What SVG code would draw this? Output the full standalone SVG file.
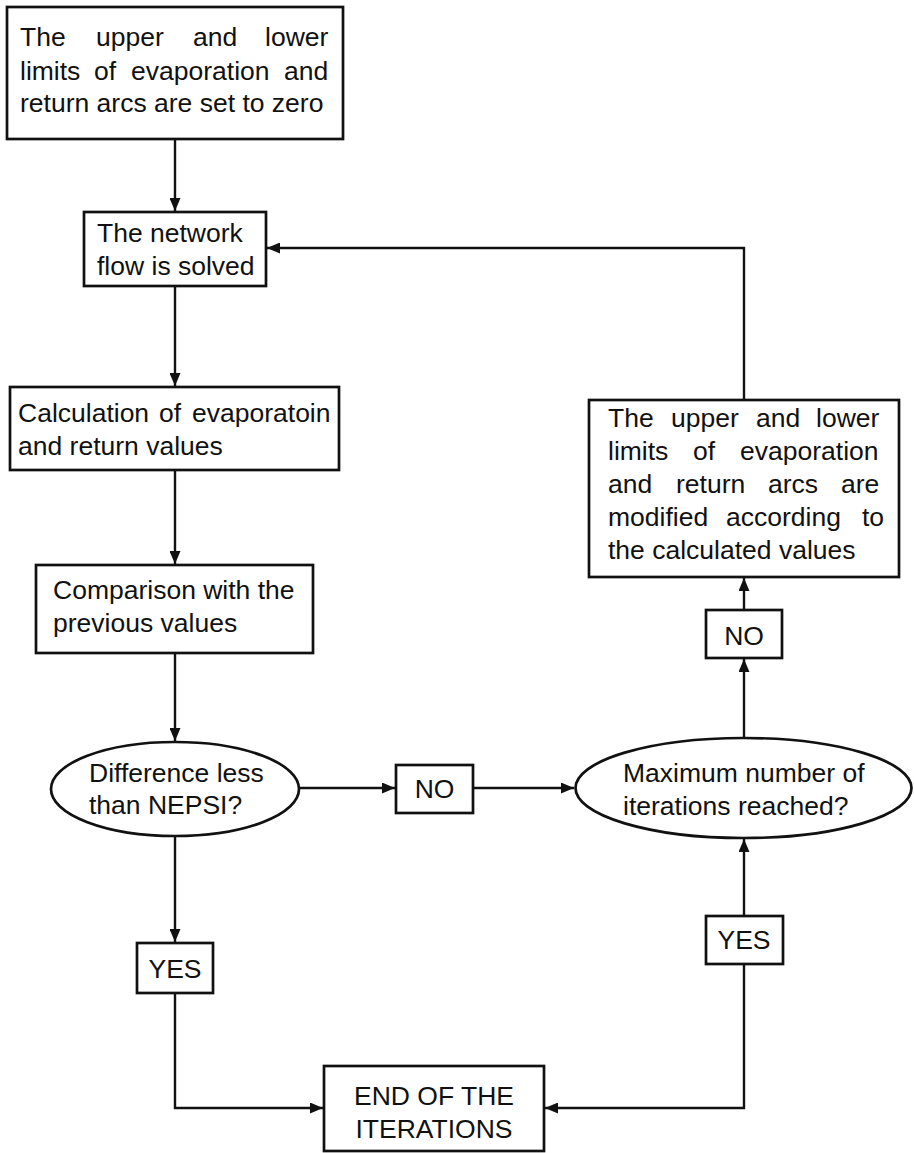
<svg xmlns="http://www.w3.org/2000/svg" width="914" height="1153" viewBox="0 0 914 1153">
  <style>
    .box { fill: #ffffff; stroke: #111111; stroke-width: 2.7; }
    .wire { fill: none; stroke: #111111; stroke-width: 2.4; }
    .lbl { font-family: "Liberation Sans", Arial, sans-serif; font-size: 26.5px; fill: #111111; }
    .mid { text-anchor: middle; }
  </style>
  <defs>
    <marker id="arrow" viewBox="0 0 13 11" refX="13" refY="5.5" markerWidth="13" markerHeight="11" markerUnits="userSpaceOnUse" orient="auto">
      <path d="M0,0 L13,5.5 L0,11 Z" fill="#111111"/>
    </marker>
  </defs>

  <g id="connectors">
    <path class="wire" d="M175,139 V211" marker-end="url(#arrow)"/>
    <path class="wire" d="M175,286 V386" marker-end="url(#arrow)"/>
    <path class="wire" d="M175,470 V564" marker-end="url(#arrow)"/>
    <path class="wire" d="M175,653 V741" marker-end="url(#arrow)"/>
    <path class="wire" d="M175,836 V942" marker-end="url(#arrow)"/>
    <path class="wire" d="M175,993 V1108 H323" marker-end="url(#arrow)"/>
    <path class="wire" d="M299,788 H395" marker-end="url(#arrow)"/>
    <path class="wire" d="M473,788 H574" marker-end="url(#arrow)"/>
    <path class="wire" d="M744,964 V1108 H545" marker-end="url(#arrow)"/>
    <path class="wire" d="M744,916 V839" marker-end="url(#arrow)"/>
    <path class="wire" d="M744,738 V659" marker-end="url(#arrow)"/>
    <path class="wire" d="M744,610 V578" marker-end="url(#arrow)"/>
    <path class="wire" d="M744,400 V248 H267" marker-end="url(#arrow)"/>
  </g>

  <g id="init-limits">
    <rect class="box" x="7" y="7" width="336" height="132"/>
    <text class="lbl" y="46"><tspan x="20">The</tspan><tspan x="96">upper</tspan><tspan x="193">and</tspan><tspan x="265">lower</tspan></text>
    <text class="lbl" y="80"><tspan x="20">limits</tspan><tspan x="94">of</tspan><tspan x="131">evaporation</tspan><tspan x="284">and</tspan></text>
    <text class="lbl" x="20" y="112">return arcs are set to zero</text>
  </g>

  <g id="solve-flow">
    <rect class="box" x="84" y="212" width="182" height="74"/>
    <text class="lbl" x="97" y="242">The network</text>
    <text class="lbl" x="97" y="275">flow is solved</text>
  </g>

  <g id="calc-values">
    <rect class="box" x="10" y="387" width="329" height="83"/>
    <text class="lbl" y="422"><tspan x="18">Calculation</tspan><tspan x="159">of</tspan><tspan x="192">evaporatoin</tspan></text>
    <text class="lbl" x="18" y="455">and return values</text>
  </g>

  <g id="compare">
    <rect class="box" x="36" y="565" width="277" height="88"/>
    <text class="lbl" x="53" y="599">Comparison with the</text>
    <text class="lbl" x="53" y="632">previous values</text>
  </g>

  <g id="check-diff">
    <ellipse class="box" cx="175" cy="789" rx="124" ry="47"/>
    <text class="lbl" x="89" y="782">Difference less</text>
    <text class="lbl" x="89" y="814">than NEPSI?</text>
  </g>

  <g id="no-diff">
    <rect class="box" x="396" y="765" width="77" height="48"/>
    <text class="lbl mid" x="434.5" y="798">NO</text>
  </g>

  <g id="check-iter">
    <ellipse class="box" cx="743.5" cy="788" rx="168" ry="50"/>
    <text class="lbl" x="623" y="782">Maximum number of</text>
    <text class="lbl" x="623" y="815">iterations reached?</text>
  </g>

  <g id="no-iter">
    <rect class="box" x="706" y="610" width="76" height="48"/>
    <text class="lbl mid" x="744" y="645">NO</text>
  </g>

  <g id="modify-limits">
    <rect class="box" x="589" y="400" width="310" height="177"/>
    <text class="lbl" y="427"><tspan x="608">The</tspan><tspan x="671">upper</tspan><tspan x="756">and</tspan><tspan x="816">lower</tspan></text>
    <text class="lbl" y="460"><tspan x="608">limits</tspan><tspan x="693">of</tspan><tspan x="740">evaporation</tspan></text>
    <text class="lbl" y="493"><tspan x="608">and</tspan><tspan x="676">return</tspan><tspan x="768">arcs</tspan><tspan x="841">are</tspan></text>
    <text class="lbl" y="526"><tspan x="608">modified</tspan><tspan x="726">according</tspan><tspan x="862">to</tspan></text>
    <text class="lbl" x="608" y="559">the calculated values</text>
  </g>

  <g id="yes-iter">
    <rect class="box" x="706" y="916" width="77" height="48"/>
    <text class="lbl mid" x="744" y="949">YES</text>
  </g>

  <g id="yes-diff">
    <rect class="box" x="137" y="943" width="76" height="50"/>
    <text class="lbl mid" x="175" y="978">YES</text>
  </g>

  <g id="end">
    <rect class="box" x="324" y="1066" width="220" height="85"/>
    <text class="lbl mid" x="434" y="1105">END OF THE</text>
    <text class="lbl mid" x="434" y="1138">ITERATIONS</text>
  </g>
</svg>
